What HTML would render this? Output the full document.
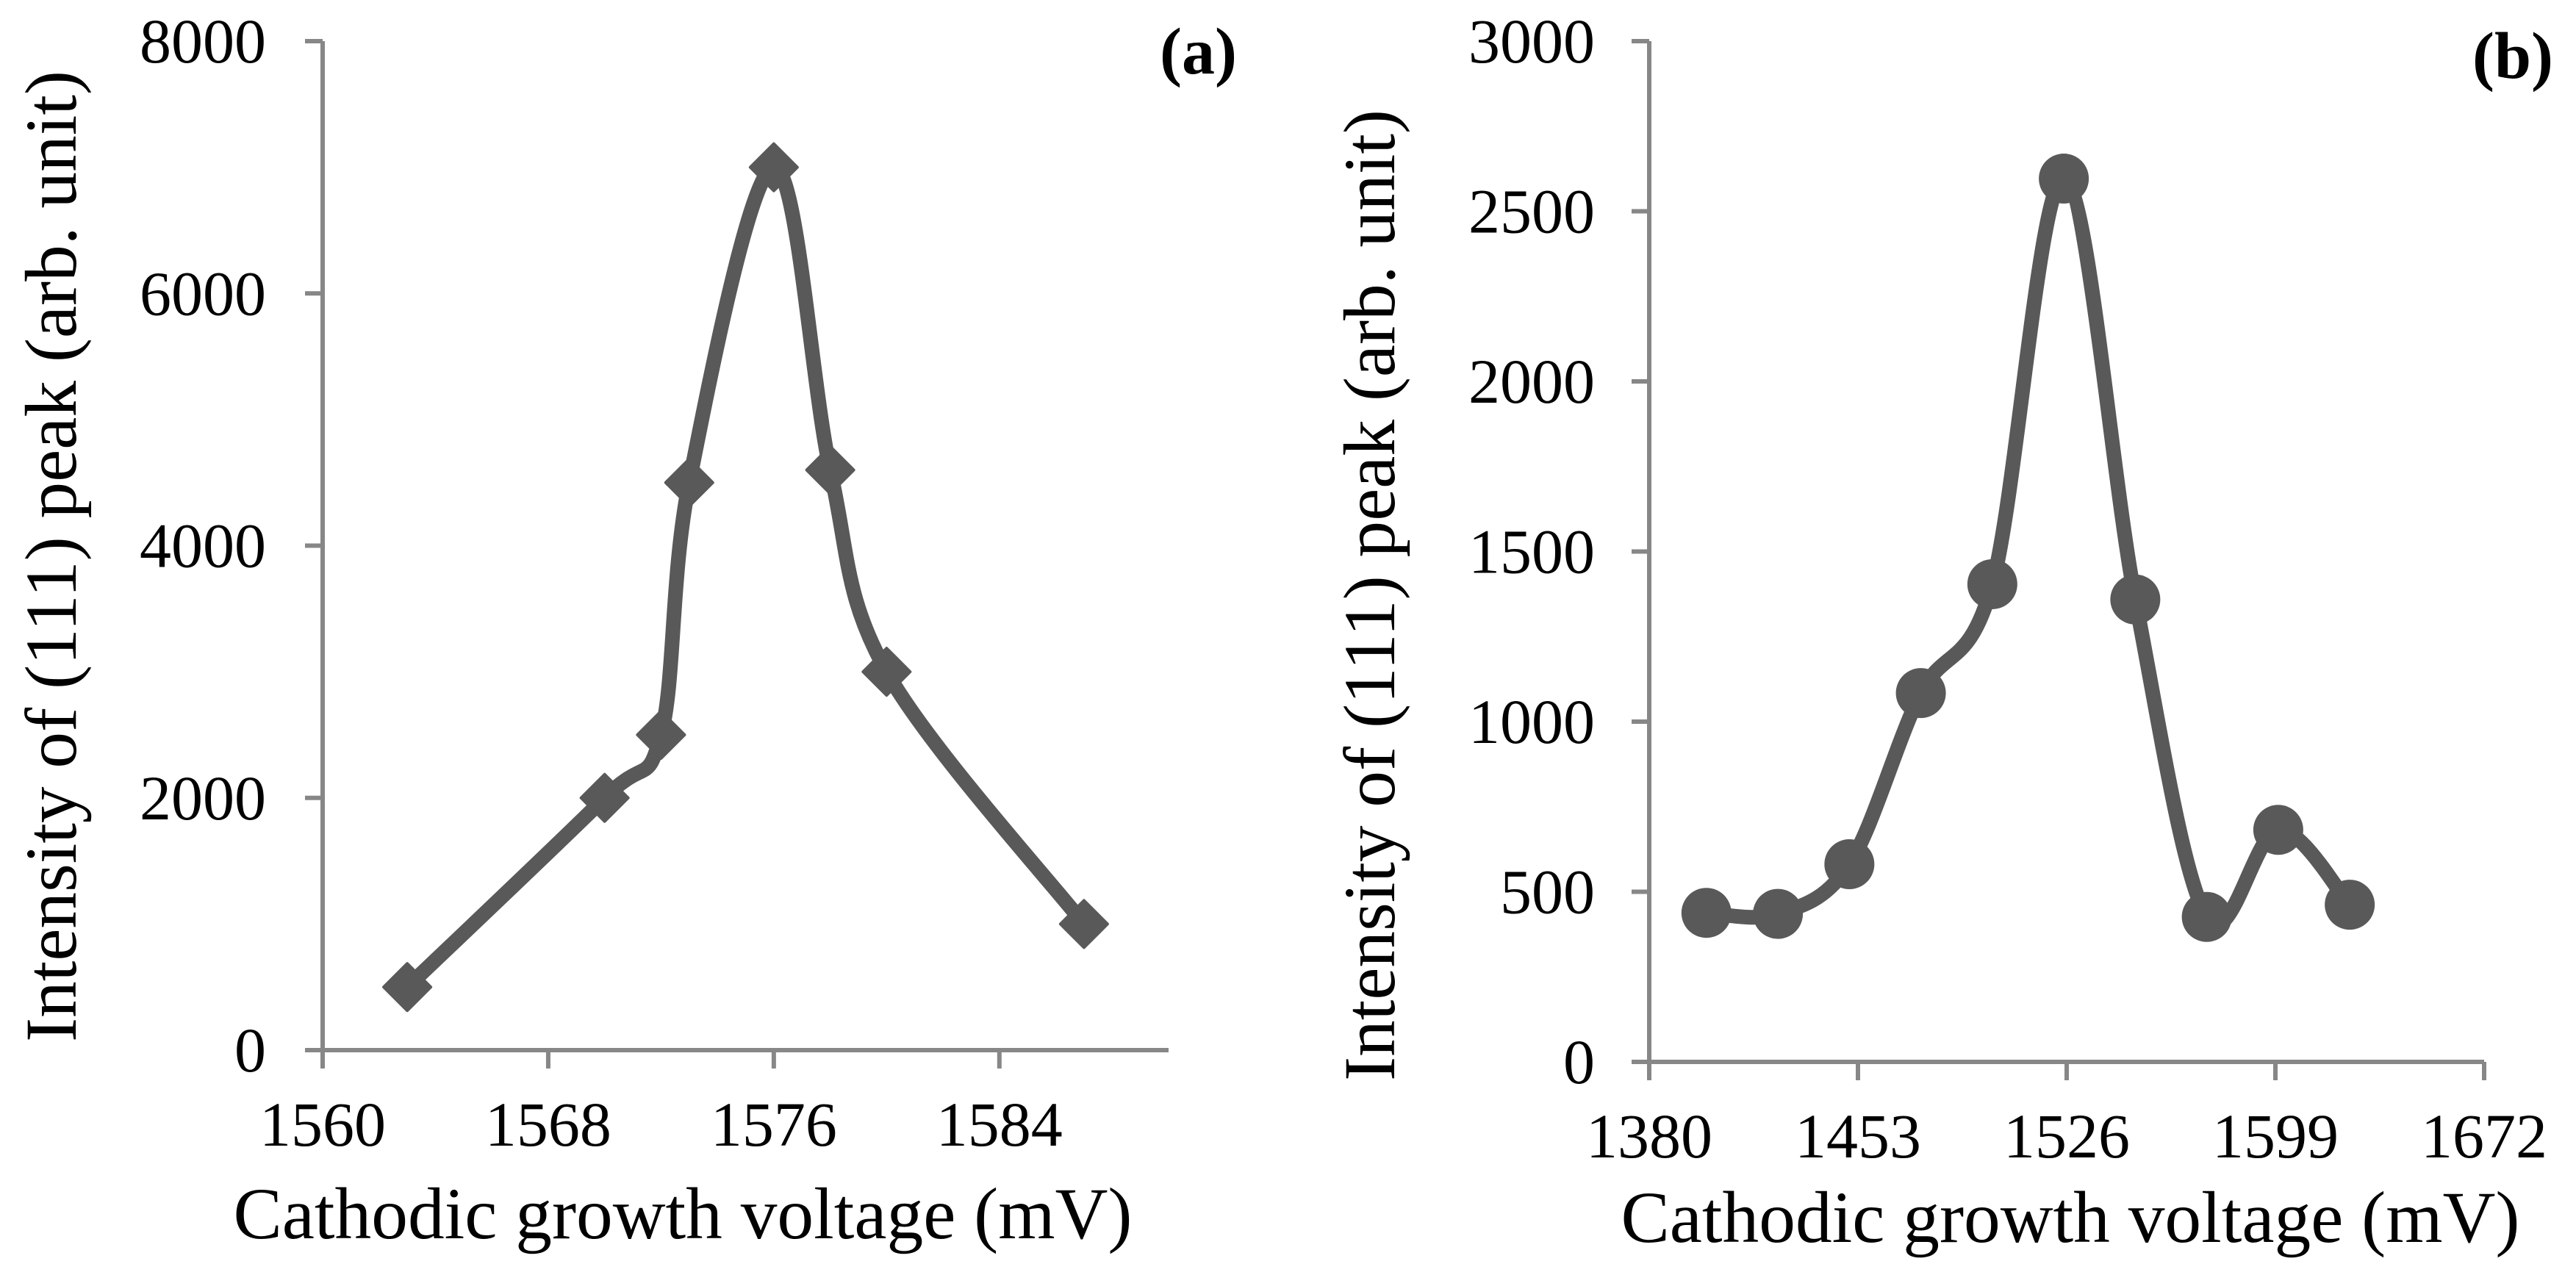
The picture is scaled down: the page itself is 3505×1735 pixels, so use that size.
<!DOCTYPE html>
<html><head><meta charset="utf-8"><style>
html,body{margin:0;padding:0;background:#fff}
svg{display:block}
text{font-family:"Liberation Serif","Times New Roman",serif;fill:#000}
</style></head><body>
<svg id="chart" width="3505" height="1735" viewBox="0 0 3505 1735" xmlns="http://www.w3.org/2000/svg"></svg>
<script>
// Panel (a) data
const aX = [1563, 1570, 1572, 1573, 1576, 1578, 1580, 1587];
const aY = [500, 2000, 2500, 4500, 7000, 4600, 3000, 1000];
const aXTicks = [1560, 1568, 1576, 1584];
const aYTicks = [0, 2000, 4000, 6000, 8000];
// Panel (b) data
const bX = [1400, 1425, 1450, 1475, 1500, 1525, 1550, 1575, 1600, 1625];
const bY = [438, 435, 581, 1084, 1404, 2596, 1359, 426, 682, 462];
const bXTicks = [1380, 1453, 1526, 1599, 1672];
const bYTicks = [0, 500, 1000, 1500, 2000, 2500, 3000];

const NS = "http://www.w3.org/2000/svg";
const svg = document.getElementById('chart');
function mk(tag, attrs, parent){
  const e = document.createElementNS(NS, tag);
  for (const k in attrs) e.setAttribute(k, attrs[k]);
  (parent||svg).appendChild(e);
  return e;
}
function smoothPath(pts){
  let d = `M${pts[0][0]},${pts[0][1]}`;
  for (let i=0;i<pts.length-1;i++){
    const p0=pts[Math.max(0,i-1)], p1=pts[i], p2=pts[i+1], p3=pts[Math.min(pts.length-1,i+2)];
    const t=1/6;
    const c1=[p1[0]+(p2[0]-p0[0])*t, p1[1]+(p2[1]-p0[1])*t];
    const c2=[p2[0]-(p3[0]-p1[0])*t, p2[1]-(p3[1]-p1[1])*t];
    d += ` C${c1[0]},${c1[1]} ${c2[0]},${c2[1]} ${p2[0]},${p2[1]}`;
  }
  return d;
}
function panel(cfg){
  const g = mk('g', {});
  
  
  const xs = v => cfg.x0 + (v - cfg.xMin)/(cfg.xMax - cfg.xMin)*(cfg.x1 - cfg.x0);
  const ys = v => cfg.y0 - (v - cfg.yMin)/(cfg.yMax - cfg.yMin)*(cfg.y0 - cfg.y1);
  const ax = '#878787';
  const yAxis = mk('line', {x1:cfg.x0, y1:cfg.y1, x2:cfg.x0, y2:cfg.y0, stroke:ax, 'stroke-width':6}, g);
  
  
  const xAxis = mk('line', {x1:cfg.x0, y1:cfg.y0, x2:cfg.x1, y2:cfg.y0, stroke:ax, 'stroke-width':6}, g);
  
  
  cfg.yTicks.forEach(v => {
    const y = ys(v);
    const t = mk('line', {x1:cfg.x0-24, y1:y, x2:cfg.x0, y2:y, stroke:ax, 'stroke-width':6}, g);
    
    
    const l = mk('text', {x:cfg.yLabelRight, y:y+29, 'text-anchor':'end', 'font-size':86}, g);
    l.textContent = v;
    
    
  });
  cfg.xTicks.forEach(v => {
    const x = xs(v);
    const t = mk('line', {x1:x, y1:cfg.y0, x2:x, y2:cfg.y0+25, stroke:ax, 'stroke-width':6}, g);
    
    
    const l = mk('text', {x:x, y:cfg.y0+130, 'text-anchor':'middle', 'font-size':86}, g);
    l.textContent = v;
    
    
  });
  const pts = cfg.xv.map((v,i) => [xs(v), ys(cfg.yv[i])]);
  const line = mk('path', {d:smoothPath(pts), fill:'none', stroke:'#595959', 'stroke-width':20, 'stroke-linejoin':'round'}, g);
  
  
  pts.forEach(p => {
    let m;
    if (cfg.marker === 'diamond'){
      const r = 32;
      m = mk('polygon', {points:`${p[0]},${p[1]-r} ${p[0]+r},${p[1]} ${p[0]},${p[1]+r} ${p[0]-r},${p[1]}`, fill:'#595959', stroke:'#595959', 'stroke-width':4, 'stroke-linejoin':'round'}, g);
    } else {
      m = mk('circle', {cx:p[0], cy:p[1], r:34, fill:'#595959'}, g);
    }
    
    
  });
  const xt = mk('text', {x:cfg.xTitleX, y:cfg.xTitleY, 'text-anchor':'middle', 'font-size':100, textLength:1223, lengthAdjust:'spacingAndGlyphs'}, g);
  xt.textContent = 'Cathodic growth voltage (mV)';
  
  
  const yt = mk('text', {x:0, y:0, 'text-anchor':'middle', 'font-size':100, textLength:1322, lengthAdjust:'spacingAndGlyphs', transform:`translate(${cfg.yTitleX},${cfg.yTitleY}) rotate(-90)`}, g);
  yt.textContent = 'Intensity of (111) peak (arb. unit)';
  
  
  const pl = mk('text', {x:cfg.labelX, y:cfg.labelY, 'text-anchor':'end', 'font-size':90, 'font-weight':'bold'}, g);
  pl.textContent = cfg.label;
  
  
}
panel({name:'panel-a', x0:439, x1:1590, y0:1429, y1:56, xMin:1560, xMax:1590, yMin:0, yMax:8000,
  xTicks:aXTicks, yTicks:aYTicks, xv:aX, yv:aY, marker:'diamond', yLabelRight:362,
  xTitleX:929, xTitleY:1685, yTitleX:103, yTitleY:757, label:'(a)', labelX:1683, labelY:100});
panel({name:'panel-b', x0:2244, x1:3380, y0:1445, y1:56, xMin:1380, xMax:1672, yMin:0, yMax:3000,
  xTicks:bXTicks, yTicks:bYTicks, xv:bX, yv:bY, marker:'circle', yLabelRight:2170,
  xTitleX:2817, xTitleY:1690, yTitleX:1897, yTitleY:810, label:'(b)', labelX:3474, labelY:106});
</script>
</body></html>
